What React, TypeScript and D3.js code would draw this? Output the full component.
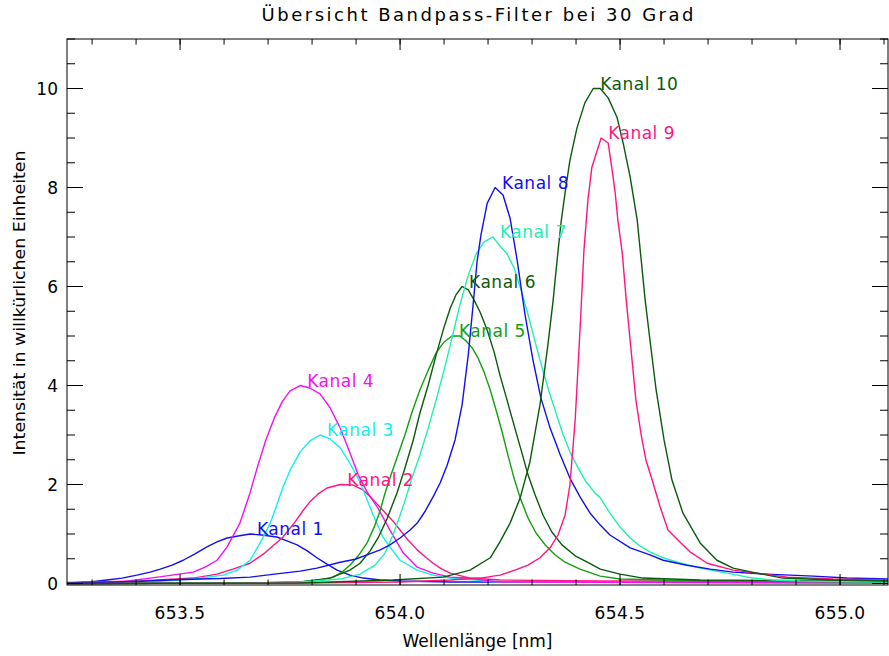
import React from 'react';
import * as d3 from 'd3';

type Pt = [number, number];

const channelNames = ['Kanal 1', 'Kanal 2', 'Kanal 3', 'Kanal 4', 'Kanal 5', 'Kanal 6', 'Kanal 7', 'Kanal 8', 'Kanal 9', 'Kanal 10'];
const channelColors = ['#1010ee', '#ff1480', '#10f0f0', '#f010f0', '#10a010', '#0a5a0a', '#20f0b0', '#1010ee', '#ff1480', '#0a5a0a'];

const kanal1: Pt[] = [[653.243,0.01],[653.295,0.03],[653.334,0.07],[653.368,0.11],[653.402,0.17],[653.432,0.23],[653.455,0.29],[653.482,0.37],[653.507,0.47],[653.534,0.60],[653.561,0.74],[653.584,0.84],[653.607,0.92],[653.632,0.96],[653.659,1.0],[653.686,0.98],[653.720,0.94],[653.743,0.86],[653.766,0.78],[653.789,0.66],[653.811,0.52],[653.834,0.39],[653.857,0.27],[653.886,0.17],[653.916,0.11],[653.955,0.07],[654.0,0.05],[654.114,0.03],[654.455,0.03],[655.111,0.03]];
const kanal2: Pt[] = [[653.243,0.02],[653.409,0.05],[653.530,0.11],[653.584,0.19],[653.620,0.29],[653.659,0.41],[653.693,0.62],[653.734,0.94],[653.761,1.24],[653.780,1.48],[653.795,1.65],[653.814,1.81],[653.834,1.93],[653.864,2.0],[653.893,1.99],[653.916,1.89],[653.939,1.69],[653.961,1.48],[653.982,1.28],[654.0,1.08],[654.018,0.88],[654.039,0.68],[654.057,0.54],[654.075,0.41],[654.095,0.29],[654.114,0.21],[654.159,0.11],[654.227,0.07],[654.455,0.05],[655.111,0.04]];
const kanal3: Pt[] = [[653.243,0.01],[653.432,0.03],[653.530,0.09],[653.598,0.17],[653.630,0.27],[653.659,0.47],[653.682,0.82],[653.705,1.22],[653.720,1.59],[653.734,1.95],[653.750,2.29],[653.773,2.66],[653.795,2.88],[653.818,3.0],[653.841,2.92],[653.864,2.74],[653.886,2.43],[653.909,2.05],[653.925,1.69],[653.939,1.38],[653.961,0.94],[653.982,0.68],[654.0,0.47],[654.039,0.27],[654.075,0.17],[654.114,0.11],[654.227,0.03],[655.111,0.01]];
const kanal4: Pt[] = [[653.243,0.01],[653.364,0.03],[653.432,0.11],[653.482,0.17],[653.530,0.23],[653.557,0.33],[653.584,0.47],[653.607,0.74],[653.636,1.22],[653.659,1.83],[653.677,2.39],[653.695,2.90],[653.714,3.34],[653.732,3.67],[653.750,3.89],[653.773,4.0],[653.795,3.95],[653.818,3.83],[653.841,3.55],[653.864,3.14],[653.886,2.64],[653.905,2.19],[653.925,1.85],[653.948,1.55],[653.977,1.08],[654.007,0.62],[654.039,0.33],[654.075,0.21],[654.114,0.13],[654.152,0.11],[654.227,0.03],[655.111,0.01]];
const kanal5: Pt[] = [[653.243,0],[653.659,0.01],[653.773,0.03],[653.818,0.07],[653.848,0.13],[653.868,0.23],[653.886,0.37],[653.905,0.56],[653.925,0.82],[653.943,1.18],[653.955,1.48],[653.966,1.83],[653.977,2.13],[653.993,2.54],[654.011,3.0],[654.027,3.46],[654.045,3.91],[654.064,4.31],[654.082,4.66],[654.100,4.88],[654.118,5.0],[654.136,5.0],[654.150,4.90],[654.164,4.76],[654.177,4.56],[654.191,4.27],[654.205,3.91],[654.218,3.51],[654.232,3.06],[654.245,2.60],[654.259,2.13],[654.273,1.73],[654.291,1.32],[654.309,1.02],[654.330,0.78],[654.352,0.58],[654.375,0.43],[654.409,0.29],[654.455,0.15],[654.500,0.09],[654.591,0.07],[654.682,0.05],[655.111,0.03]];
const kanal6: Pt[] = [[653.243,0],[653.659,0.01],[653.773,0.03],[653.841,0.11],[653.886,0.27],[653.909,0.41],[653.932,0.66],[653.950,0.92],[653.970,1.30],[653.993,1.83],[654.011,2.33],[654.030,2.90],[654.045,3.44],[654.064,4.01],[654.082,4.62],[654.100,5.18],[654.114,5.56],[654.127,5.83],[654.141,6.0],[654.155,5.93],[654.168,5.73],[654.182,5.48],[654.198,5.12],[654.214,4.67],[654.227,4.21],[654.243,3.71],[654.259,3.20],[654.275,2.70],[654.291,2.19],[654.307,1.79],[654.325,1.38],[654.345,1.04],[654.368,0.78],[654.398,0.56],[654.432,0.40],[654.455,0.29],[654.500,0.19],[654.552,0.11],[654.682,0.07],[655.111,0.05]];
const kanal7: Pt[] = [[653.243,0],[653.659,0.01],[653.773,0.03],[653.864,0.09],[653.909,0.19],[653.943,0.37],[653.966,0.62],[653.984,0.98],[654.0,1.38],[654.014,1.75],[654.027,2.13],[654.045,2.59],[654.064,3.14],[654.082,3.71],[654.100,4.31],[654.118,4.96],[654.136,5.63],[654.155,6.23],[654.173,6.66],[654.191,6.90],[654.211,7.0],[654.227,6.82],[654.243,6.66],[654.259,6.38],[654.275,5.93],[654.291,5.43],[654.307,4.88],[654.323,4.35],[654.339,3.87],[654.355,3.43],[654.370,3.02],[654.386,2.66],[654.405,2.33],[654.423,2.05],[654.441,1.85],[654.455,1.73],[654.477,1.42],[654.500,1.14],[654.523,0.92],[654.545,0.76],[654.568,0.64],[654.598,0.52],[654.630,0.43],[654.682,0.31],[654.743,0.21],[654.802,0.11],[654.848,0.07],[654.909,0.05],[655.111,0.03]];
const kanal8: Pt[] = [[653.243,0.01],[653.364,0.03],[653.507,0.08],[653.591,0.10],[653.659,0.13],[653.734,0.21],[653.773,0.25],[653.811,0.31],[653.864,0.43],[653.898,0.49],[653.925,0.58],[653.955,0.68],[653.977,0.78],[654.0,0.92],[654.023,1.08],[654.039,1.22],[654.057,1.46],[654.075,1.75],[654.091,2.03],[654.107,2.39],[654.125,2.90],[654.141,3.61],[654.155,4.62],[654.166,5.63],[654.175,6.50],[654.184,7.05],[654.198,7.68],[654.216,8.0],[654.234,7.85],[654.250,7.38],[654.266,6.54],[654.284,5.43],[654.302,4.52],[654.320,3.75],[654.341,3.14],[654.364,2.60],[654.386,2.13],[654.409,1.75],[654.432,1.42],[654.455,1.18],[654.477,0.98],[654.523,0.72],[654.568,0.58],[654.598,0.47],[654.652,0.37],[654.705,0.29],[654.757,0.23],[654.834,0.19],[654.939,0.15],[655.016,0.11],[655.111,0.09]];
const kanal9: Pt[] = [[653.243,0],[653.773,0.01],[654.0,0.03],[654.114,0.07],[654.182,0.11],[654.227,0.17],[654.261,0.27],[654.291,0.37],[654.318,0.52],[654.341,0.72],[654.359,0.98],[654.375,1.38],[654.386,1.99],[654.398,3.30],[654.409,5.12],[654.418,6.74],[654.427,7.75],[654.436,8.41],[654.457,9.0],[654.473,8.90],[654.482,8.35],[654.489,7.89],[654.495,7.34],[654.505,6.68],[654.514,5.73],[654.525,4.72],[654.536,3.71],[654.548,3.0],[654.559,2.49],[654.573,2.09],[654.591,1.55],[654.609,1.08],[654.636,0.84],[654.659,0.64],[654.698,0.41],[654.757,0.27],[654.811,0.21],[654.880,0.13],[654.984,0.09],[655.111,0.07]];
const kanal10: Pt[] = [[653.243,0],[653.773,0.01],[653.984,0.07],[654.098,0.13],[654.159,0.27],[654.205,0.52],[654.227,0.84],[654.250,1.22],[654.273,1.73],[654.295,2.45],[654.318,3.61],[654.336,4.82],[654.348,5.73],[654.357,6.54],[654.366,7.30],[654.375,7.89],[654.386,8.55],[654.402,9.20],[654.420,9.71],[654.439,10.0],[654.455,10.0],[654.473,9.81],[654.493,9.42],[654.507,8.90],[654.523,8.21],[654.539,7.34],[654.548,6.54],[654.557,5.73],[654.568,4.92],[654.582,3.91],[654.600,2.90],[654.618,2.09],[654.643,1.42],[654.682,0.82],[654.720,0.47],[654.757,0.31],[654.811,0.21],[654.870,0.11],[654.984,0.07],[655.111,0.05]];

const channelData: Pt[][] = [kanal1, kanal2, kanal3, kanal4, kanal5, kanal6, kanal7, kanal8, kanal9, kanal10];

const xMajorTicks = [653.5, 654.0, 654.5, 655.0];
const xTickLabels = ['653.5', '654.0', '654.5', '655.0'];
const yMajorTicks = [0, 2, 4, 6, 8, 10];
const yTickLabels = ['0', '2', '4', '6', '8', '10'];

const titleText = 'Übersicht Bandpass-Filter bei 30 Grad';
const xTitle = 'Wellenlänge [nm]';
const yTitle = 'Intensität in willkürlichen Einheiten';

const W = 889;
const H = 656;
const L = 67, R = 888, T = 39, B = 585;

export default function App() {
  const x = d3.scaleLinear().domain([653.243, 655.109]).range([L, R]);
  const y = d3.scaleLinear().domain([-0.03, 11]).range([B, T]);
  const line = d3.line<Pt>().x(d => x(d[0])).y(d => y(d[1]));
  const xMinor = x.ticks(20);
  const yMinor = y.ticks(22);
  const font = "'DejaVu Sans', sans-serif";
  const xMajLen = 11, xMinLen = 5.5, yMajLen = 16, yMinLen = 8;

  return (
    <svg width={W} height={H} style={{ position: 'absolute', left: 0, top: 0, background: '#fff' }} fontFamily={font}>
      <defs>
        <clipPath id="plotclip">
          <rect x={L} y={T} width={R - L} height={B - T} />
        </clipPath>
      </defs>
      <rect x={0} y={0} width={W} height={H} fill="#fff" />
      <text x={(L + R) / 2} y={21} textAnchor="middle" fontSize={18} textLength={432} lengthAdjust="spacing" fill="#000">{titleText}</text>

      <g clipPath="url(#plotclip)">
        {channelData.map((d, i) => (
          <path key={i} d={line(d) || ''} fill="none" stroke={channelColors[i]} strokeWidth={1.4} strokeLinejoin="round" />
        ))}
      </g>

      {channelData.map((d, i) => {
        const peak = d.reduce((a, b) => (b[1] > a[1] ? b : a), d[0]);
        return (
          <text key={'l' + i} x={x(peak[0]) + 7} y={y(peak[1]) + 1} fontSize={17} letterSpacing={0.5} fill={channelColors[i]}>{channelNames[i]}</text>
        );
      })}

      <g stroke="#000" strokeWidth={1} fill="none">
        <rect x={L} y={T} width={R - L} height={B - T} />
        {xMinor.map((t, i) => (
          <g key={'xm' + i}>
            <line x1={x(t)} x2={x(t)} y1={B} y2={B - xMinLen} />
            <line x1={x(t)} x2={x(t)} y1={T} y2={T + xMinLen} />
          </g>
        ))}
        {xMajorTicks.map((t, i) => (
          <g key={'xM' + i}>
            <line x1={x(t)} x2={x(t)} y1={B} y2={B - xMajLen} />
            <line x1={x(t)} x2={x(t)} y1={T} y2={T + xMajLen} />
          </g>
        ))}
        {yMinor.map((t, i) => (
          <g key={'ym' + i}>
            <line x1={L} x2={L + yMinLen} y1={y(t)} y2={y(t)} />
            <line x1={R} x2={R - yMinLen} y1={y(t)} y2={y(t)} />
          </g>
        ))}
        {yMajorTicks.map((t, i) => (
          <g key={'yM' + i}>
            <line x1={L} x2={L + yMajLen} y1={y(t)} y2={y(t)} />
            <line x1={R} x2={R - yMajLen} y1={y(t)} y2={y(t)} />
          </g>
        ))}
      </g>

      {xMajorTicks.map((t, i) => (
        <text key={'xl' + i} x={x(t)} y={619} textAnchor="middle" fontSize={17} letterSpacing={0.5} fill="#000">{xTickLabels[i]}</text>
      ))}
      {yMajorTicks.map((t, i) => (
        <text key={'yl' + i} x={58} y={y(t)} dy="0.36em" textAnchor="end" fontSize={17} fill="#000">{yTickLabels[i]}</text>
      ))}

      <text x={(L + R) / 2} y={647} textAnchor="middle" fontSize={17} textLength={150} lengthAdjust="spacing" fill="#000">{xTitle}</text>
      <text transform={`translate(25, ${303}) rotate(-90)`} textAnchor="middle" fontSize={16} textLength={305} lengthAdjust="spacingAndGlyphs" fill="#000">{yTitle}</text>
    </svg>
  );
}
